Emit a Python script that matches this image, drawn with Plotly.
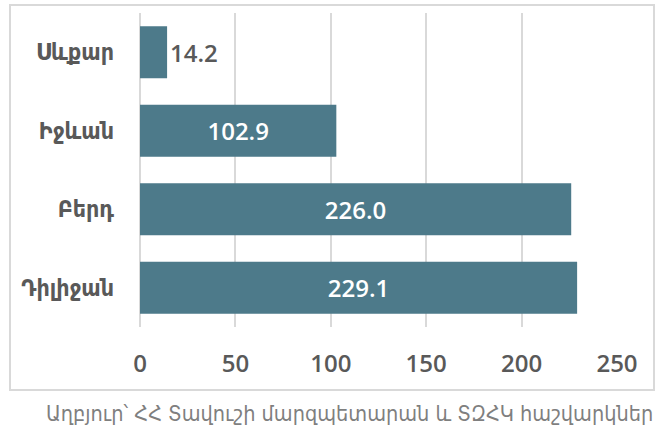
import plotly.graph_objects as go

categories = ["Սևքար", "Իջևան", "Բերդ", "Դիլիջան"]
values = [14.2, 102.9, 226.0, 229.1]
labels = ["14.2", "102.9", "226.0", "229.1"]
positions = ["outside", "inside", "inside", "inside"]
x_ticks = [0, 50, 100, 150, 200, 250]
source = "Աղբյուր՝ ՀՀ Տավուշի մարզպետարան և ՏԶՀԿ հաշվարկներ"

W, H = 659, 432
L, R, T, B = 140, 42, 13, 105
pw, ph = W - L - R, H - T - B

def px(x):
    return (x - L) / pw

def py(y):
    return (H - B - y) / ph

fig = go.Figure()
fig.add_trace(go.Bar(
    y=categories, x=values, orientation="h",
    marker=dict(color="#4D7A8A", line=dict(width=0)),
    text=labels, textposition=positions,
    insidetextanchor="middle",
    constraintext="none",
    insidetextfont=dict(family="Open Sans", size=24, color="white", weight=600),
    outsidetextfont=dict(family="Open Sans", size=24, color="#595959", weight=600),
    cliponaxis=False,
    hoverinfo="skip",
))

fig.update_layout(
    template="none",
    width=W, height=H,
    margin=dict(l=L, r=R, t=T, b=B, autoexpand=False),
    paper_bgcolor="white", plot_bgcolor="white",
    bargap=0.34,
    showlegend=False,
    xaxis=dict(
        automargin=False,
        range=[0, 250], tickvals=x_ticks, ticktext=[str(v) for v in x_ticks],
        showgrid=True, gridcolor="#D9D9D9", gridwidth=1.5,
        zeroline=True, zerolinecolor="#D9D9D9", zerolinewidth=1.5,
        showline=False, ticks="",
        ticklabelstandoff=20,
        tickfont=dict(family="Open Sans", size=24, color="#595959", weight=600),
        fixedrange=True,
    ),
    yaxis=dict(
        automargin=False,
        categoryorder="array", categoryarray=categories, autorange="reversed",
        showgrid=False, zeroline=False, showline=False, ticks="",
        ticklabelstandoff=25,
        tickfont=dict(family="DejaVu Sans Condensed", size=23, color="#595959", weight="bold"),
        fixedrange=True,
    ),
    shapes=[dict(
        type="rect", xref="paper", yref="paper",
        x0=px(10), x1=px(654), y0=py(390), y1=py(5),
        line=dict(color="#D9D9D9", width=2), fillcolor="rgba(0,0,0,0)", layer="below",
    )],
    annotations=[dict(
        text=source, xref="paper", yref="paper",
        x=px(655), y=py(413), xanchor="right", yanchor="middle",
        showarrow=False,
        font=dict(family="DejaVu Sans Condensed", size=21.5, color="#7F7F7F"),
    )],
)

fig.write_html("out.html", config={"displayModeBar": False},
               post_script="document.body.style.margin='0';")
